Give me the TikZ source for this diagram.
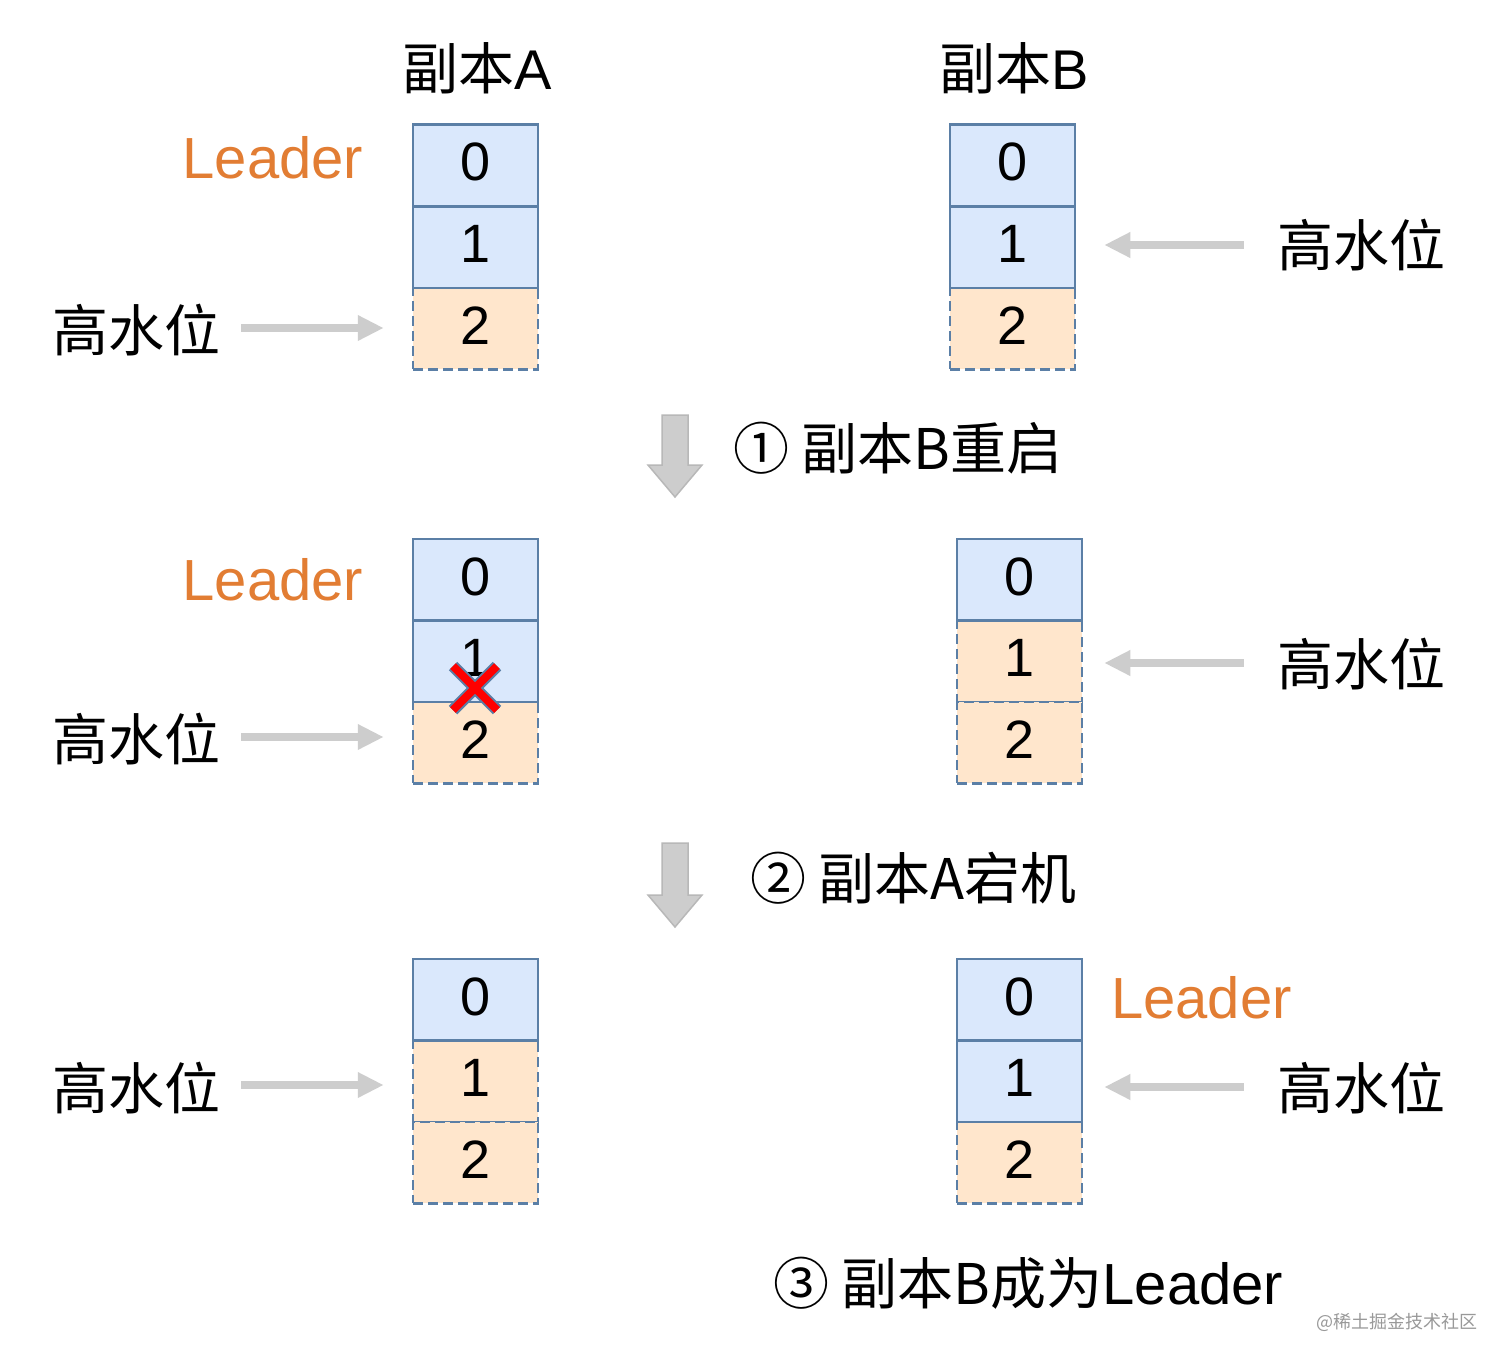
\documentclass[tikz,border=0pt]{standalone}
\usepackage{fontspec}
\setmainfont{Liberation Sans}
\newfontfamily\cjk{Noto Sans CJK SC}
\usetikzlibrary{arrows.meta}
\definecolor{cellblue}{HTML}{DAE8FC}
\definecolor{cellorange}{HTML}{FFE6CC}
\definecolor{cellborder}{HTML}{5B7FA6}
\definecolor{leaderorange}{HTML}{E27D33}
\definecolor{arrowgray}{HTML}{CDCDCD}
\definecolor{arrowedge}{HTML}{B8B8B8}
\begin{document}
\begin{tikzpicture}[x=1pt,y=-1pt,
  cellbase/.style={minimum width=125pt,minimum height=81.5pt,inner sep=0pt,line width=2.5pt,
    text height=39pt,text depth=8pt,font=\fontsize{54}{58}\selectfont},
  bluecell/.style={cellbase,draw=cellborder,fill=cellblue},
  orangecell/.style={cellbase,draw=cellborder,fill=cellorange,dash pattern=on 10pt off 5pt},
  bigtext/.style={inner sep=0pt,font=\fontsize{56}{60}\selectfont},
  leadertext/.style={inner sep=0pt,font=\fontsize{58}{62}\selectfont,text=leaderorange},
  hwarrow/.style={draw=arrowgray,line width=8pt,-{Triangle[length=26pt,width=24pt]}},
  blockarrow/.style={fill=arrowgray,draw=arrowedge,line width=1.5pt,line join=miter},
]
\useasboundingbox (0,0) rectangle (1512,1366);
\fill[white] (0,0) rectangle (1512,1366);

% headers
\node[bigtext] (hA) at (477,68) {{\cjk 副本}A};
\node[bigtext] (hB) at (1014,68) {{\cjk 副本}B};

% ---- row 1 ----
\node[orangecell] (a12) at (475.5,328.5) {2};
\node[bluecell] (a10) at (475.5,165) {0};
\node[bluecell] (a11) at (475.5,247) {1};
\node[orangecell] (b12) at (1012.5,328.5) {2};
\node[bluecell] (b10) at (1012.5,165) {0};
\node[bluecell] (b11) at (1012.5,247) {1};

\node[leadertext] (l1) at (273,158) {Leader};
\node[bigtext,anchor=west] (hl1) at (52,330) {\cjk 高水位};
\node[bigtext,anchor=east] (hr1) at (1446,245) {\cjk 高水位};
\draw[hwarrow] ([xshift=21]hl1.east |- 0,328) -- ([xshift=-28]a12.west |- 0,328);
\draw[hwarrow] ([xshift=-34]hr1.west |- 0,245) -- ([xshift=28]b11.east |- 0,245);

% step 1
\draw[blockarrow] (662,415) -- (688,415) -- (688,465) -- (702,465) -- (675,497) -- (648,465) -- (662,465) -- cycle;
\node[bigtext,anchor=west] (s1) at (733,448) {\cjk ① 副本B重启};

% ---- row 2 ----
\node[orangecell] (a22) at (475.5,742.5) {2};
\node[bluecell] (a20) at (475.5,579.5) {0};
\node[bluecell] (a21) at (475.5,661) {1};
\node[orangecell] (b21) at (1019.5,661) {1};
\node[orangecell] (b22) at (1019.5,742.5) {2};
\node[bluecell] (b20) at (1019.5,579.5) {0};

\node[leadertext] (l2) at (273,580) {Leader};
\node[bigtext,anchor=west] (hl2) at (52,739) {\cjk 高水位};
\node[bigtext,anchor=east] (hr2) at (1446,664) {\cjk 高水位};
\draw[hwarrow] ([xshift=21]hl2.east |- 0,737) -- ([xshift=-28]a22.west |- 0,737);
\draw[hwarrow] ([xshift=-34]hr2.west |- 0,663) -- ([xshift=21]b21.east |- 0,663);

% red cross
\coordinate (xc) at (475,688);
\draw[cellborder,line width=12pt] ([shift={(-22,-22)}]xc) -- ([shift={(22,22)}]xc);
\draw[cellborder,line width=12pt] ([shift={(22,-22)}]xc) -- ([shift={(-22,22)}]xc);
\draw[red,line width=8pt] ([shift={(-22,-22)}]xc) -- ([shift={(22,22)}]xc);
\draw[red,line width=8pt] ([shift={(22,-22)}]xc) -- ([shift={(-22,22)}]xc);

% step 2
\draw[blockarrow] (662,843) -- (688,843) -- (688,895) -- (702,895) -- (675,927) -- (648,895) -- (662,895) -- cycle;
\node[bigtext,anchor=west] (s2) at (750,878) {\cjk ② 副本A宕机};

% ---- row 3 ----
\node[orangecell] (a31) at (475.5,1081) {1};
\node[orangecell] (a32) at (475.5,1162.5) {2};
\node[bluecell] (a30) at (475.5,999.5) {0};
\node[orangecell] (b32) at (1019.5,1162.5) {2};
\node[bluecell] (b30) at (1019.5,999.5) {0};
\node[bluecell] (b31) at (1019.5,1081) {1};

\node[leadertext,anchor=west] (l3) at (1111,998) {Leader};
\node[bigtext,anchor=west] (hl3) at (52,1088) {\cjk 高水位};
\node[bigtext,anchor=east] (hr3) at (1446,1088) {\cjk 高水位};
\draw[hwarrow] ([xshift=21]hl3.east |- 0,1085) -- ([xshift=-28]a31.west |- 0,1085);
\draw[hwarrow] ([xshift=-34]hr3.west |- 0,1087) -- ([xshift=21]b31.east |- 0,1087);

% step 3
\node[bigtext,anchor=west] (s3) at (773,1283) {{\cjk ③ 副本B成为}{\fontsize{58}{62}\selectfont Leader}};

% watermark
\node[inner sep=0pt,anchor=east,text=black!40,font=\cjk\fontsize{18}{20}\selectfont] (wm) at (1478,1322) {@稀土掘金技术社区};
\end{tikzpicture}
\end{document}
